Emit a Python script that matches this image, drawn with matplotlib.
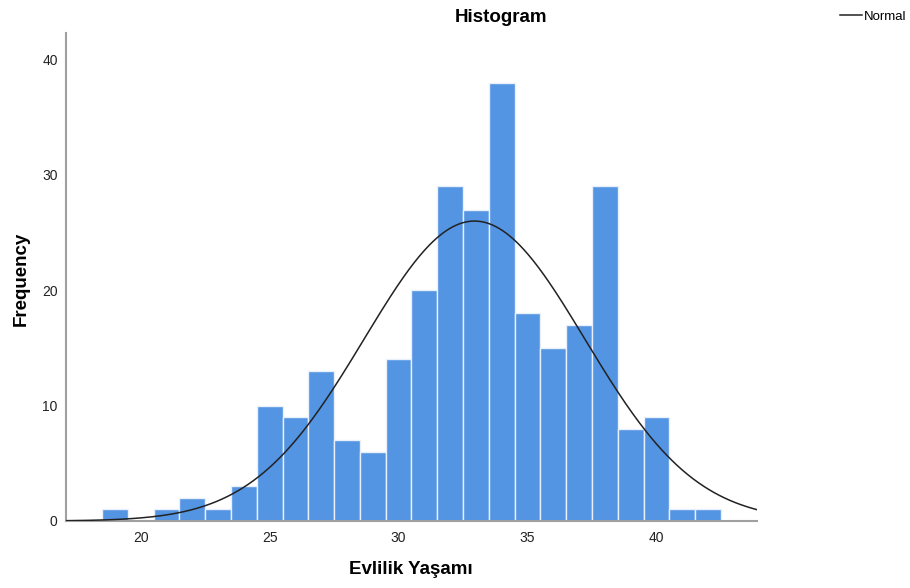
import numpy as np
import matplotlib.pyplot as plt

plt.rcParams['font.family'] = ['Liberation Sans', 'DejaVu Sans']

# bin centres (years) and counts
bin_centers = [19, 20, 21, 22, 23, 24, 25, 26, 27, 28, 29, 30,
               31, 32, 33, 34, 35, 36, 37, 38, 39, 40, 41, 42]
counts = [1, 0, 1, 2, 1, 3, 10, 9, 13, 7, 6, 14,
          20, 29, 27, 38, 18, 15, 17, 29, 8, 9, 1, 1]
y_ticks = [0, 10, 20, 30, 40]
x_ticks = [20, 25, 30, 35, 40]

bin_width = 1.0
x = np.array(bin_centers, dtype=float)
c = np.array(counts, dtype=float)
n = c.sum()
mean = (x * c).sum() / n
std = np.sqrt(((x - mean) ** 2 * c).sum() / (n - 1))

fig = plt.figure(figsize=(9.1, 5.88), dpi=100)
ax = fig.add_axes([66 / 910, 1 - 521 / 588, (757 - 66) / 910, (521 - 33) / 588])

ax.bar(x, c, width=bin_width, color='#5394e3', edgecolor='#e8f0fb',
       linewidth=1.0, zorder=2)

# normal curve scaled to the counts
xs = np.linspace(17.1, 43.9, 400)
ys = n * bin_width / (std * np.sqrt(2 * np.pi)) * np.exp(-0.5 * ((xs - mean) / std) ** 2)
line, = ax.plot(xs, ys, color='#222222', linewidth=1.1, zorder=3)

ax.set_xlim(17.1, 43.9)
ax.set_ylim(0, 42.3)
ax.set_xticks(x_ticks)
ax.set_yticks(y_ticks)
ax.tick_params(length=0, labelsize=10, colors='#222222', pad=6)
ax.tick_params(axis='x', pad=7)
for side in ['top', 'right']:
    ax.spines[side].set_visible(False)
for side in ['left', 'bottom']:
    ax.spines[side].set_color('#a0a0a0')
    ax.spines[side].set_linewidth(1.5)

fig.text(501 / 910, 1 - 18 / 588, 'Histogram', ha='center', va='center',
         fontsize=13.5, fontweight='bold')
fig.text(21 / 910, 1 - 279 / 588, 'Frequency', ha='center', va='center',
         fontsize=13.5, fontweight='bold', rotation=90)
fig.text(411 / 910, 1 - 570 / 588, 'Evlilik Yaşamı', ha='center', va='center',
         fontsize=13.5, fontweight='bold')

fig.legend([line], ['Normal'], loc='upper right', bbox_to_anchor=(1.008, 1.0),
           frameon=False, fontsize=9.5, handlelength=1.6, handletextpad=0.2,
           borderaxespad=0.4)

fig.savefig('out.png', dpi=100)
